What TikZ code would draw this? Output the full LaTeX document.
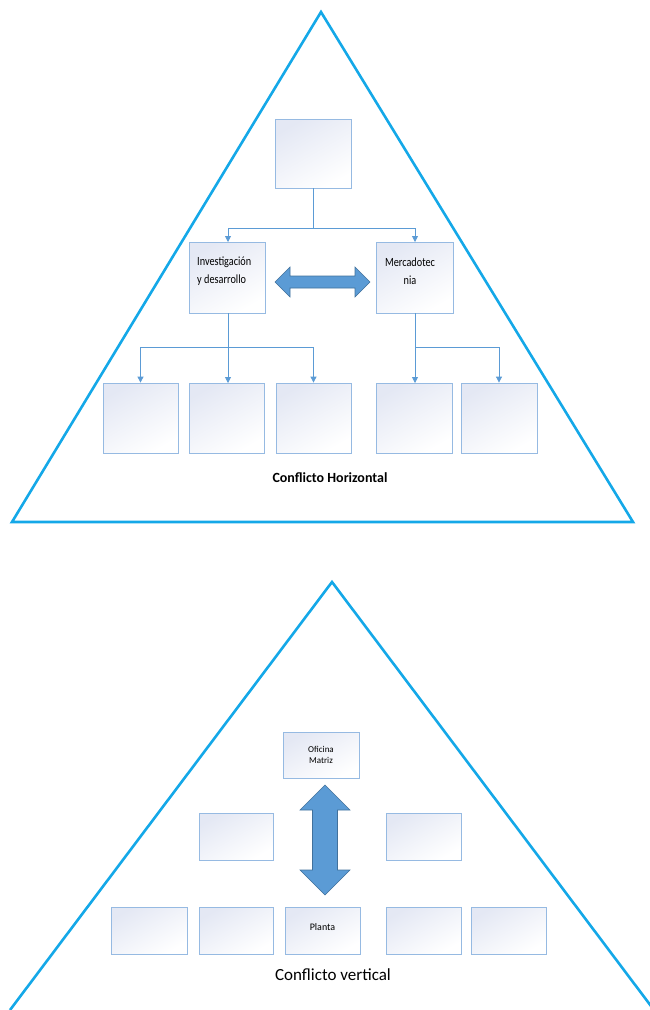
\documentclass[tikz,border=0pt]{standalone}
\usepackage{fontspec}
\setmainfont{Carlito}
\usetikzlibrary{arrows.meta}
\definecolor{tri}{RGB}{20,168,232}
\definecolor{boxline}{RGB}{150,186,226}
\definecolor{conn}{RGB}{91,155,213}
\definecolor{arrowfill}{RGB}{91,155,213}
\definecolor{arrowline}{RGB}{65,113,156}
\definecolor{shadetop}{RGB}{228,232,244}
\tikzset{
  triline/.style={draw=tri, line width=2.6pt, line join=miter},
  orgbox/.style={draw=boxline, line width=0.8pt, top color=shadetop, bottom color=white, shading angle=30, minimum width=#1, inner sep=2pt, font=\fontsize{9}{11}\selectfont, align=center},
  orgbox/.default=76pt,
  conline/.style={draw=conn, line width=0.8pt},
  conarrow/.style={conline, -{Triangle[width=6pt,length=6pt]}},
  blockarrow/.style={fill=arrowfill, draw=arrowline, line width=0.6pt, line join=miter},
  narrowtext/.style={font=\fontsize{12.5}{18}\selectfont\addfontfeatures{FakeStretch=0.82}},
  caption/.style={font=\fontsize{14}{16}\selectfont}
}
\begin{document}
\begin{tikzpicture}[x=1pt,y=-1pt]
\useasboundingbox (0,0) rectangle (649,1010);
% ---------- top triangle ----------
\draw[triline] (321,12) -- (633,522) -- (12,522) -- cycle;
\node[orgbox, minimum height=69pt] (top) at (313.5,153.5) {};
\node[orgbox, minimum height=71pt, minimum width=76pt] (id) at (227,277.5) {};
\node[narrowtext, align=left, anchor=west, inner sep=0pt] (idt) at (197,271.5) {Investigación\\y desarrollo};
\node[orgbox, minimum height=71pt, minimum width=77pt] (mk) at (414.5,277.5) {};
\node[narrowtext, align=center, inner sep=0pt] (mkt) at (410,271) {Mercadotec\\nia};
\node[orgbox, minimum width=75pt, minimum height=70pt] (b1) at (140.5,418) {};
\node[orgbox, minimum width=75pt, minimum height=70pt] (b2) at (226.5,418) {};
\node[orgbox, minimum width=75pt, minimum height=70pt] (b3) at (313.5,418) {};
\node[orgbox, minimum width=76pt, minimum height=70pt] (b4) at (414,418) {};
\node[orgbox, minimum width=76pt, minimum height=70pt] (b5) at (499,418) {};
% connectors
\coordinate (j0) at (313.5,228);
\draw[conline] (top.south) -- (j0);
\draw[conline] (228,228) -- (415,228);
\draw[conarrow] (228,228) -- (228,242);
\draw[conarrow] (415,228) -- (415,242);
\coordinate (j1) at (228,347);
\draw[conline] (228,313) -- (j1);
\draw[conline] (140.5,347) -- (313.5,347);
\draw[conarrow] (140.5,347) -- (b1.north);
\draw[conarrow] (228,347) -- (228,383);
\draw[conarrow] (313.5,347) -- (b3.north);
\draw[conline] (415,313) -- (415,347);
\draw[conline] (415,347) -- (499,347);
\draw[conarrow] (415,347) -- (415,383);
\draw[conarrow] (499,347) -- (b5.north);
% horizontal block arrow
\draw[blockarrow] (275,282) -- (290,267) -- (290,276) -- (355,276) -- (355,267) -- (370,282) -- (355,297) -- (355,288) -- (290,288) -- (290,297) -- cycle;
\node[caption, font=\fontsize{14}{16}\selectfont\bfseries] (ch) at (330,478) {Conflicto Horizontal};
% ---------- bottom triangle ----------
\draw[triline] (10,1010) -- (332,582) -- (654,1010);
\node[orgbox, minimum height=46pt] (of) at (321,755) {Oficina\\Matriz};
\node[orgbox, minimum width=74pt, minimum height=47pt] (m1) at (236,836.5) {};
\node[orgbox, minimum width=75pt, minimum height=47pt] (m2) at (423.5,836.5) {};
\node[orgbox, minimum width=76pt, minimum height=47pt] (p1) at (149,930.5) {};
\node[orgbox, minimum width=74pt, minimum height=47pt] (p2) at (236,930.5) {};
\node[orgbox, minimum width=75pt, minimum height=47pt, font=\fontsize{10}{12}\selectfont] (pl) at (322.5,930.5) {\raisebox{7pt}{Planta}};
\node[orgbox, minimum width=75pt, minimum height=47pt] (p4) at (423.5,930.5) {};
\node[orgbox, minimum width=75pt, minimum height=47pt] (p5) at (508.5,930.5) {};
% vertical block arrow
\draw[blockarrow] (325,785) -- (350,810) -- (337.5,810) -- (337.5,870) -- (350,870) -- (325,895) -- (300,870) -- (312.5,870) -- (312.5,810) -- (300,810) -- cycle;
\node[caption, font=\fontsize{17}{19}\selectfont] (cv) at (333,975) {Conflicto vertical};
\end{tikzpicture}
\end{document}
